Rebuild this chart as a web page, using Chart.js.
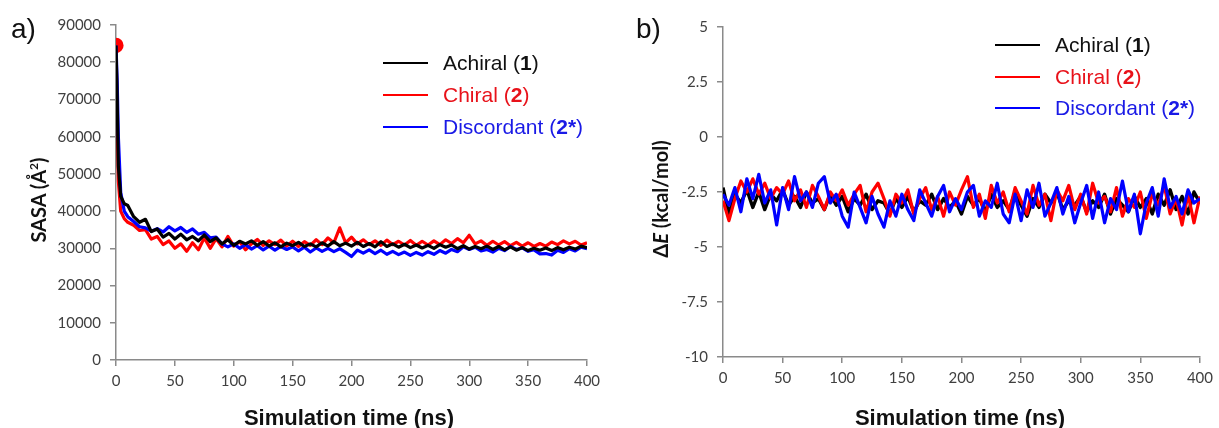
<!DOCTYPE html>
<html>
<head>
<meta charset="utf-8">
<script src="https://cdn.jsdelivr.net/npm/chart.js@4.4.1/dist/chart.umd.min.js"></script>
<style>
  html,body{margin:0;padding:0;background:#fff;}
  #wrap{position:relative;width:1219px;height:428px;overflow:hidden;font-family:"Liberation Sans",Arial,sans-serif;}
  .panel{position:absolute;top:0;height:428px;}
  .lbl{position:absolute;font-size:28px;line-height:28px;color:#111;}
  .xt{position:absolute;font-weight:bold;font-size:22px;line-height:22px;color:#111;white-space:nowrap;transform:translateX(-50%);}
  .yt{position:absolute;font-family:Lato,"Open Sans",sans-serif;font-weight:bold;font-size:20px;line-height:20px;color:#111;white-space:nowrap;transform:translate(-50%,-50%) rotate(-90deg);}
  .leg{position:absolute;}
  .row{display:flex;align-items:center;height:22px;position:absolute;left:0;white-space:nowrap;font-size:21px;line-height:22px;}
  .sw{width:45px;height:2px;margin-right:15px;}
</style>
</head>
<body>
<div id="wrap">
  <div class="panel" style="left:0;width:610px;"><canvas id="c1" width="610" height="428"></canvas></div>
  <div class="panel" style="left:610px;width:609px;"><canvas id="c2" width="609" height="428"></canvas></div>

  <div class="lbl" style="left:11px;top:15px;">a)</div>
  <div class="lbl" style="left:636px;top:15px;">b)</div>

  <div class="yt" style="left:36px;top:200px;">SASA (Å<sup style="font-size:12px;">2</sup>)</div>
  <div class="yt" style="left:660px;top:199px;">Δ<i>E</i> (kcal/mol)</div>

  <div class="xt" style="left:349px;top:407px;">Simulation time (ns)</div>
  <div class="xt" style="left:960px;top:407px;">Simulation time (ns)</div>

  <div class="leg" style="left:383px;top:0;">
    <div class="row" style="top:52px;color:#111;"><div class="sw" style="background:#000;"></div>Achiral (<b>1</b>)</div>
    <div class="row" style="top:84px;color:#e8121a;"><div class="sw" style="background:#ff0000;"></div>Chiral (<b>2</b>)</div>
    <div class="row" style="top:116px;color:#1a1ae6;"><div class="sw" style="background:#0000ff;"></div>Discordant (<b>2*</b>)</div>
  </div>
  <div class="leg" style="left:995px;top:0;">
    <div class="row" style="top:34px;color:#111;"><div class="sw" style="background:#000;"></div>Achiral (<b>1</b>)</div>
    <div class="row" style="top:66px;color:#e8121a;"><div class="sw" style="background:#ff0000;"></div>Chiral (<b>2</b>)</div>
    <div class="row" style="top:97px;color:#1a1ae6;"><div class="sw" style="background:#0000ff;"></div>Discordant (<b>2*</b>)</div>
  </div>
</div>

<script>
// ---------- Panel a) SASA ----------
const sasaTime = [0,1,2,4,7,10,15,20,25,30,35,40,45,50,55,60,65,70,75,80,85,90,95,100,105,110,115,120,125,130,135,140,145,150,155,160,165,170,175,180,185,190,195,200,205,210,215,220,225,230,235,240,245,250,255,260,265,270,275,280,285,290,295,300,305,310,315,320,325,330,335,340,345,350,355,360,365,370,375,380,385,390,395,400];
const sasaAchiral = [84500,70000,52000,44000,42000,41500,
  38500,37000,37800,34500,35200,33000,34000,32500,33800,32300,
  33200,32000,33600,31800,32800,31200,32300,30800,31900,31200,
  32000,30800,31800,30600,31500,30400,31400,30700,31600,30500,
  31200,30400,31500,30600,31800,30700,31400,30600,31600,30500,
  31300,30400,31800,30500,31200,30300,31100,30200,30900,30100,
  30800,30000,31000,30300,30900,29900,30700,29800,30500,29900,
  30600,29700,30500,29600,30400,29500,30200,29400,30000,29500,
  30100,29400,30200,29600,30300,29800,30600,30200];
const sasaChiral = [84500,65000,48000,40000,38000,37000,
  36200,34800,35000,32500,33200,31000,32000,30000,31200,29200,
  31500,29600,32800,30000,32600,30400,33200,30600,31800,29600,
  31200,32400,30800,32000,31000,32200,30600,31900,30500,31800,
  30800,32300,31000,32800,31500,35500,31500,33000,31200,32300,
  31000,32000,30800,32200,31000,31900,30900,32100,30800,31900,
  30900,32000,31000,32300,31300,32600,31500,33500,31200,32000,
  30800,31900,30900,31800,30700,31600,30600,31500,30500,31300,
  30600,31700,31000,32000,31200,31900,30900,31500];
const sasaDiscordant = [84500,75000,60000,45000,40000,38500,
  37200,35800,35500,34600,35300,34400,35800,34700,35600,34300,
  35200,33800,34300,32800,33000,31200,30400,31200,30000,31000,
  29800,30700,29600,30600,29500,30500,29700,30400,29300,30300,
  29000,30100,29200,30000,29100,29900,28900,27800,29500,28700,
  29600,28600,29500,28400,29200,28300,29000,28100,28900,28200,
  29100,28400,29400,28700,29700,29100,30400,29700,30300,29300,
  29700,29000,30000,29400,30500,29700,30100,29200,29600,28500,
  28600,28200,29500,28900,29900,29300,30300,29900];

// ---------- Panel b) interaction energy ----------
const energyTime = [0,5,10,15,20,25,30,35,40,45,50,55,60,65,70,75,80,85,90,95,100,105,110,115,120,125,130,135,140,145,150,155,160,165,170,175,180,185,190,195,200,205,210,215,220,225,230,235,240,245,250,255,260,265,270,275,280,285,290,295,300,305,310,315,320,325,330,335,340,345,350,355,360,365,370,375,380,385,390,395,400];
const energyAchiral = [
  -2.3,-3.5,-2.6,-3.0,-2.4,-3.2,-2.5,-3.3,-2.6,-2.9,
  -2.4,-3.1,-2.7,-3.2,-2.5,-3.0,-2.8,-3.3,-2.6,-3.1,
  -2.7,-3.4,-2.8,-3.1,-2.6,-3.3,-2.9,-3.0,-3.5,-2.8,
  -3.2,-2.7,-3.4,-2.9,-3.1,-2.6,-3.3,-2.8,-3.2,-2.9,
  -3.5,-2.7,-3.1,-2.8,-3.4,-2.6,-3.2,-2.9,-3.3,-2.5,
  -3.1,-3.6,-2.8,-3.2,-2.6,-3.0,-2.5,-3.3,-2.9,-3.1,
  -2.7,-3.4,-2.9,-3.2,-2.6,-3.5,-2.8,-3.1,-3.4,-2.7,
  -3.2,-2.8,-3.5,-2.6,-3.1,-2.4,-3.3,-2.7,-3.5,-2.5,
  -3.0];
const energyChiral = [
  -2.9,-3.8,-2.8,-2.0,-2.5,-1.9,-2.6,-2.1,-2.8,-2.3,
  -2.6,-2.0,-2.9,-2.4,-3.2,-2.2,-2.7,-3.3,-2.5,-2.9,
  -2.4,-3.1,-2.6,-2.2,-3.4,-2.5,-2.1,-2.8,-3.6,-2.6,
  -3.0,-2.4,-3.5,-2.8,-2.3,-3.3,-2.7,-3.6,-2.5,-3.1,
  -2.4,-1.8,-3.2,-2.6,-3.7,-2.2,-3.0,-2.5,-3.4,-2.3,
  -2.9,-3.5,-2.2,-3.1,-2.6,-3.8,-2.4,-2.9,-2.2,-3.3,
  -2.6,-3.5,-2.1,-3.0,-2.7,-3.4,-2.3,-3.6,-2.8,-3.2,
  -2.5,-3.7,-2.6,-3.1,-2.2,-3.5,-2.8,-4.0,-2.6,-3.9,
  -2.7];
const energyDiscordant = [
  -2.6,-3.1,-2.3,-3.4,-1.9,-2.8,-1.7,-3.0,-2.4,-4.0,
  -2.3,-3.3,-1.8,-2.9,-2.5,-3.2,-2.1,-1.8,-3.0,-2.6,
  -3.6,-4.1,-2.5,-3.2,-3.9,-2.7,-3.5,-4.1,-2.9,-3.6,
  -2.6,-3.3,-3.8,-2.4,-3.0,-3.6,-2.7,-2.2,-3.4,-2.8,
  -3.3,-2.5,-2.2,-3.6,-2.9,-3.2,-2.1,-3.5,-3.9,-2.6,
  -3.8,-2.4,-3.2,-2.1,-3.6,-3.0,-2.3,-3.5,-2.7,-3.9,
  -3.0,-2.2,-3.7,-2.5,-3.9,-2.8,-3.3,-2.0,-3.4,-2.6,
  -4.4,-3.0,-2.3,-3.6,-1.9,-3.2,-2.7,-3.5,-2.4,-3.0,
  -2.8];

const BLACK = '#000000', RED = '#ff0000', BLUE = '#0000ff';
const AXIS = '#8a8a8a';
const tickFont = {family: "Lato, 'Open Sans', sans-serif", size: 15};

function pts(xs, ys){ return xs.map((x,i)=>({x:x, y:ys[i]})); }

function ds(label, xs, ys, color, width, extra){
  return Object.assign({
    label: label, data: pts(xs, ys), borderColor: color, backgroundColor: color,
    borderWidth: width, pointRadius: 0, tension: 0, fill: false, borderJoinStyle: 'round'
  }, extra || {});
}

function axes(yMin, yMax, yStep, yWidth, xHeight, yFmt){
  return {
    x: {
      type: 'linear', min: 0, max: 400,
      ticks: {stepSize: 50, color: '#404040', font: tickFont, padding: 6, maxRotation: 0},
      grid: {display: true, drawOnChartArea: false, drawTicks: true, tickLength: 6, color: AXIS, lineWidth: 1.5},
      border: {display: true, color: AXIS, width: 1.5},
      afterFit: s => { s.height = xHeight; }
    },
    y: {
      type: 'linear', min: yMin, max: yMax,
      ticks: {stepSize: yStep, color: '#404040', font: tickFont, padding: 9, callback: yFmt},
      grid: {display: true, drawOnChartArea: false, drawTicks: true, tickLength: 6, color: AXIS, lineWidth: 1.5},
      border: {display: true, color: AXIS, width: 1.5},
      afterFit: s => { s.width = yWidth; }
    }
  };
}

const baseOpts = {
  responsive: false, animation: false,
  plugins: {legend: {display: false}, tooltip: {enabled: false}}
};

new Chart(document.getElementById('c1'), {
  type: 'line',
  data: {datasets: [
    ds('Achiral (1)', sasaTime, sasaAchiral, BLACK, 3.2),
    ds('Discordant (2*)', sasaTime, sasaDiscordant, BLUE, 3.2),
    ds('Chiral (2)', sasaTime, sasaChiral, RED, 3.2, {pointRadius: c => c.dataIndex === 0 ? 6 : 0})
  ]},
  options: Object.assign({}, baseOpts, {
    layout: {padding: {left: 0, right: 23, top: 25, bottom: 0}},
    scales: axes(0, 90000, 10000, 116, 68, v => String(v))
  })
});

new Chart(document.getElementById('c2'), {
  type: 'line',
  data: {datasets: [
    ds('Discordant (2*)', energyTime, energyDiscordant, BLUE, 3.2),
    ds('Chiral (2)', energyTime, energyChiral, RED, 3.2),
    ds('Achiral (1)', energyTime, energyAchiral, BLACK, 3.4)
  ]},
  options: Object.assign({}, baseOpts, {
    layout: {padding: {left: 0, right: 18, top: 27, bottom: 0}},
    scales: axes(-10, 5, 2.5, 113, 71, v => String(v))
  })
});
</script>
</body>
</html>
